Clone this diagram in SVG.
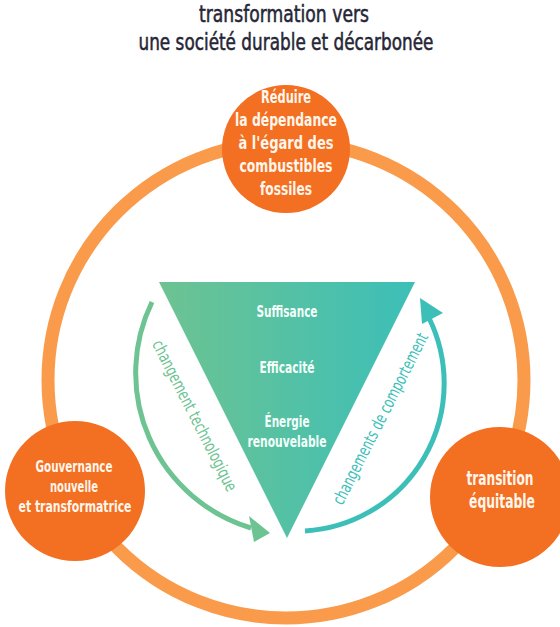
<svg xmlns="http://www.w3.org/2000/svg" width="560" height="627" viewBox="0 0 560 627">
<defs>
<linearGradient id="triGrad" x1="159" y1="0" x2="415" y2="0" gradientUnits="userSpaceOnUse">
<stop offset="0" stop-color="#6DC391"/>
<stop offset="1" stop-color="#3CBFB8"/>
</linearGradient>
<style>
text{font-family:"DejaVu Sans Condensed","DejaVu Sans","Liberation Sans",sans-serif;font-stretch:condensed;text-anchor:middle}
.title{font-size:23px;fill:#262636;stroke:#262636;stroke-width:0.5px;font-weight:500}
.node{fill:#F36F21}
.ntxt{font-size:18px;fill:#FFF6EC;font-weight:bold}
.ttxt{font-size:16px;fill:#F4FFFA;font-weight:bold}
.ring{fill:none;stroke:#F99B4B;stroke-width:13}
.garc{fill:none;stroke:#6DC391;stroke-width:5}
.tarc{fill:none;stroke:#3CBFB8;stroke-width:5}
.gtxt{font-size:17px;fill:#6DC391}
.ttl{font-size:17px;fill:#3CBFB8}
</style>
</defs>
<rect width="560" height="627" fill="#FFFFFF"/>
<g id="title">
<text class="title" x="284" y="22" textLength="170" lengthAdjust="spacingAndGlyphs">transformation vers</text>
<text class="title" x="286" y="50" textLength="295" lengthAdjust="spacingAndGlyphs">une société durable et décarbonée</text>
</g>
<g id="connectors">
<circle class="ring" cx="286" cy="380" r="238"/>
<path class="garc" d="M152,302 A162,162 0 0 0 251,528"/>
<polygon points="270,533 249,516 254,542" fill="#6DC391"/>
<path class="tarc" d="M305,531 A148,148 0 0 0 429,318"/>
<polygon points="420,298 443,313 422,324" fill="#3CBFB8"/>
<text class="gtxt" transform="translate(194,416) rotate(63)" x="0" y="5" textLength="167" lengthAdjust="spacingAndGlyphs">changement technologique</text>
<text class="ttl" transform="translate(381,419) rotate(-63)" x="0" y="5" textLength="190" lengthAdjust="spacingAndGlyphs">changements de comportement</text>
</g>
<g id="triangle">
<polygon points="159,282 415,282 287,538" fill="url(#triGrad)"/>
<text class="ttxt" x="287" y="317" textLength="61" lengthAdjust="spacingAndGlyphs">Suffisance</text>
<text class="ttxt" x="287" y="373" textLength="55" lengthAdjust="spacingAndGlyphs">Efficacité</text>
<text class="ttxt" x="287" y="427" textLength="45" lengthAdjust="spacingAndGlyphs">Énergie</text>
<text class="ttxt" x="287" y="447" textLength="79" lengthAdjust="spacingAndGlyphs">renouvelable</text>
</g>
<g id="node-top">
<circle class="node" cx="286" cy="149" r="64"/>
<text class="ntxt" x="286" y="103" textLength="50" lengthAdjust="spacingAndGlyphs">Réduire</text>
<text class="ntxt" x="286" y="126" textLength="102" lengthAdjust="spacingAndGlyphs">la dépendance</text>
<text class="ntxt" x="286" y="149" textLength="95" lengthAdjust="spacingAndGlyphs">à l'égard des</text>
<text class="ntxt" x="286" y="172" textLength="93" lengthAdjust="spacingAndGlyphs">combustibles</text>
<text class="ntxt" x="286" y="195" textLength="52" lengthAdjust="spacingAndGlyphs">fossiles</text>
</g>
<g id="node-left">
<circle class="node" cx="75" cy="491" r="70"/>
<text class="ntxt" style="font-size:16px" x="74" y="472" textLength="77" lengthAdjust="spacingAndGlyphs">Gouvernance</text>
<text class="ntxt" style="font-size:16px" x="74" y="492" textLength="48" lengthAdjust="spacingAndGlyphs">nouvelle</text>
<text class="ntxt" style="font-size:16px" x="75" y="512" textLength="113" lengthAdjust="spacingAndGlyphs">et transformatrice</text>
</g>
<g id="node-right">
<circle class="node" cx="500" cy="497" r="70"/>
<text class="ntxt" style="font-size:19px" x="500" y="485" textLength="67" lengthAdjust="spacingAndGlyphs">transition</text>
<text class="ntxt" style="font-size:19px" x="502" y="508" textLength="66" lengthAdjust="spacingAndGlyphs">équitable</text>
</g>
</svg>
